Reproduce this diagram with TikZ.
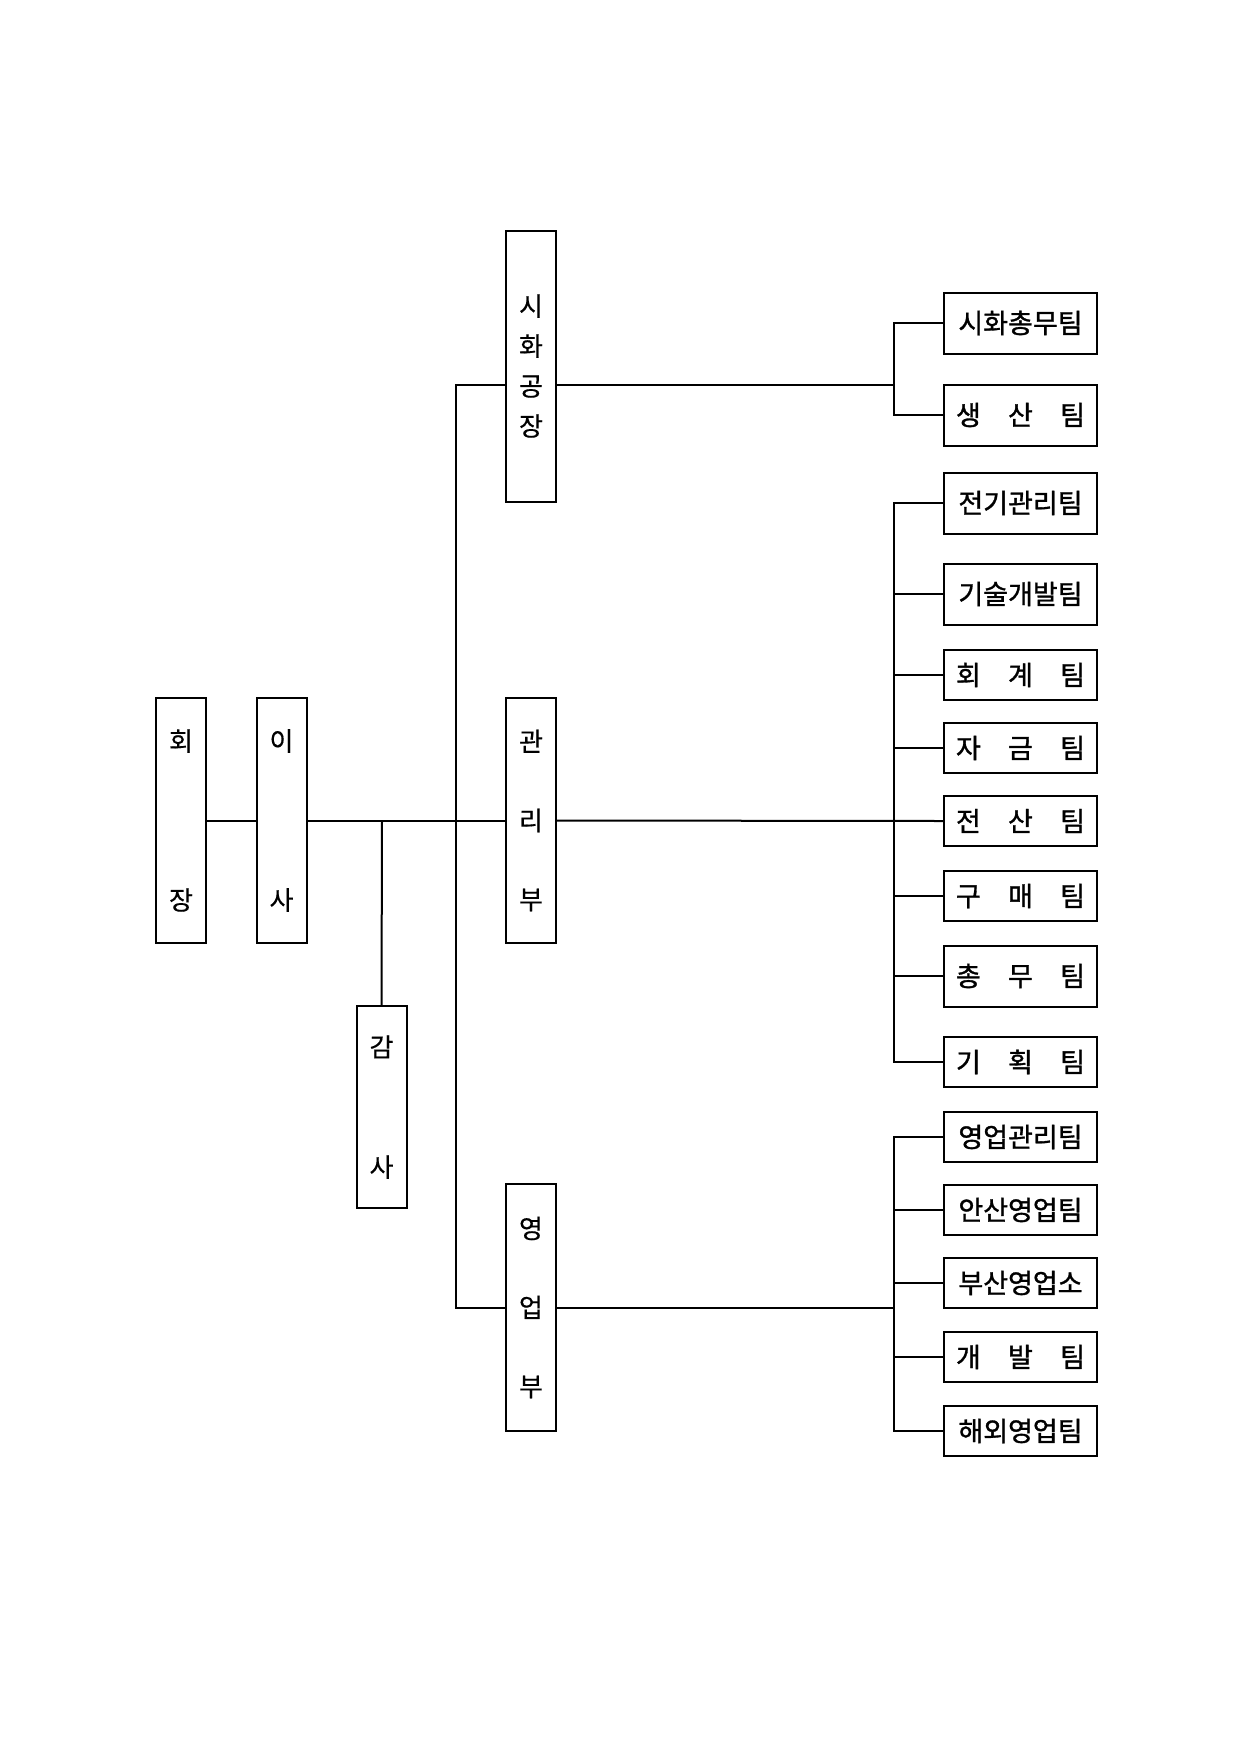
\documentclass[tikz,border=0pt]{standalone}
\usepackage{fontspec}
\newfontfamily\cjk{Noto Sans CJK KR}[FakeBold=0.4]
\newfontfamily\cjkb{Noto Sans CJK KR}[FakeBold=1.2]
\begin{document}
\begin{tikzpicture}[x=1pt,y=-1pt,
  every path/.style={line width=2pt},
  vbox/.style={draw, line width=2pt, minimum width=50pt, inner sep=0pt, align=center,
    font={\cjk\fontsize{26}{26}\selectfont}},
  tbox/.style={draw, line width=2pt, minimum width=153pt, inner sep=0pt,
    font={\cjkb\fontsize{27}{27}\selectfont}},
  conn/.style={line width=2pt}]
\useasboundingbox (0,0) rectangle (1240,1748);
\newcommand{\spr}[3]{\makebox[129pt]{#1\hfill #2\hfill #3}}
% left boxes
\node[vbox, minimum height=245pt] (hj) at (181,820.5) {회\\[133pt]장};
\node[vbox, minimum height=245pt] (is) at (281.5,820.5) {이\\[133pt]사};
\node[vbox, minimum height=202pt] (gs) at (381.5,1107) {감\\[94pt]사};
% departments
\node[vbox, minimum height=271pt] (sh) at (531,366) {시\\[14pt]화\\[14pt]공\\[14pt]장};
\node[vbox, minimum height=245pt] (gr) at (531,820.5) {관\\[53pt]리\\[53pt]부};
\node[vbox, minimum height=247pt] (yb) at (531,1307.5) {영\\[53pt]업\\[53pt]부};
% teams
\node[tbox, minimum height=61pt] (t1) at (1020.5,323) {시화총무팀};
\node[tbox, minimum height=61pt] (t2) at (1020.5,415) {\spr{생}{산}{팀}};
\node[tbox, minimum height=61pt] (t3) at (1020.5,503) {전기관리팀};
\node[tbox, minimum height=61pt] (t4) at (1020.5,594) {기술개발팀};
\node[tbox, minimum height=50pt] (t5) at (1020.5,675) {\spr{회}{계}{팀}};
\node[tbox, minimum height=50pt] (t6) at (1020.5,748) {\spr{자}{금}{팀}};
\node[tbox, minimum height=50pt] (t7) at (1020.5,821) {\spr{전}{산}{팀}};
\node[tbox, minimum height=50pt] (t8) at (1020.5,896) {\spr{구}{매}{팀}};
\node[tbox, minimum height=61pt] (t9) at (1020.5,976) {\spr{총}{무}{팀}};
\node[tbox, minimum height=50pt] (t10) at (1020.5,1062) {\spr{기}{획}{팀}};
\node[tbox, minimum height=50pt] (u1) at (1020.5,1137) {영업관리팀};
\node[tbox, minimum height=50pt] (u2) at (1020.5,1210) {안산영업팀};
\node[tbox, minimum height=50pt] (u3) at (1020.5,1283) {부산영업소};
\node[tbox, minimum height=50pt] (u4) at (1020.5,1357) {\spr{개}{발}{팀}};
\node[tbox, minimum height=50pt] (u5) at (1020.5,1431) {해외영업팀};
% junction coordinates
\coordinate (tr) at (456,0);
\coordinate (rv) at (894,0);
\coordinate (l1) at (456,385);
\coordinate (ga) at (382,820.5);
% connectors
\draw[conn] (hj.east) -- (is.west);
\draw[conn] (is.east) -- (gr.west);
\draw[conn] (ga) -- (gs.north);
\draw[conn] (sh.west |- l1) -- (l1) -- (yb.west -| tr) -- (yb.west);
\draw[conn] (sh.east |- l1) -- (l1 -| rv);
\draw[conn] (t1.west) -- (t1.west -| rv) -- (t2.west -| rv) -- (t2.west);
\draw[conn] (gr.east) -- (t7.west);
\draw[conn] (t3.west) -- (t3.west -| rv) -- (t10.west -| rv) -- (t10.west);
\foreach \t in {t4,t5,t6,t8,t9} \draw[conn] (\t.west) -- (\t.west -| rv);
\draw[conn] (yb.east) -- (yb.east -| rv);
\draw[conn] (u1.west) -- (u1.west -| rv) -- (u5.west -| rv) -- (u5.west);
\foreach \t in {u2,u3,u4} \draw[conn] (\t.west) -- (\t.west -| rv);
\end{tikzpicture}
\end{document}
